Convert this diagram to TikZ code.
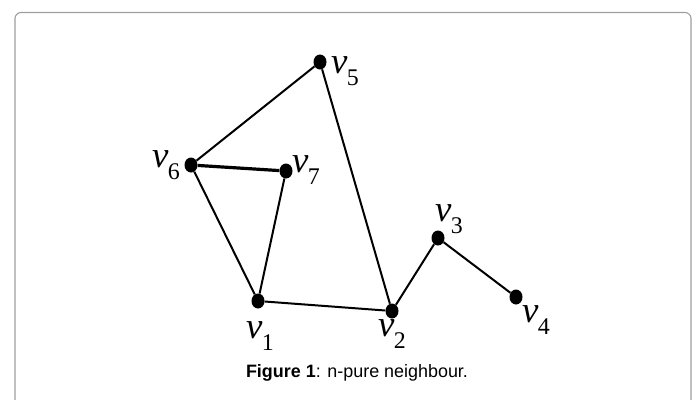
\documentclass[tikz,border=0pt]{standalone}
\usepackage{fontspec}
\setmainfont{Liberation Serif}
\newfontfamily\capfont{Liberation Sans}
\usetikzlibrary{shapes.geometric}
\newcommand{\vlab}[1]{{\fontsize{37}{37}\selectfont\itshape v}\kern-0.5bp\raisebox{-12.5bp}{\fontsize{24}{24}\selectfont #1}}
\tikzset{
  vertex/.style={ellipse,fill=black,draw=none,minimum width=13bp,minimum height=15bp,inner sep=0pt},
  vname/.style={anchor=base west,inner sep=0pt,outer sep=0pt},
  edge/.style={line width=2bp,black},
  frame/.style={draw=black!38,line width=1.1bp,rounded corners=6bp}
}
\begin{document}
\begin{tikzpicture}[x=1bp,y=-1bp]
\useasboundingbox (0,0) rectangle (697,399);
\draw[frame] (15,405) -- (15,12.5) -- (691,12.5) -- (691,405);
% vertices
\node[vertex] (v1) at (258,301) {};
\node[vertex] (v2) at (392,311) {};
\node[vertex] (v3) at (438,238) {};
\node[vertex] (v4) at (516,297) {};
\node[vertex] (v5) at (320,62) {};
\node[vertex] (v6) at (191,165) {};
\node[vertex] (v7) at (286,171) {};
% edges
\draw[edge] (v5) -- (v6);
\draw[edge] (v5) -- (v2);
\draw[edge,line width=3.2bp] (v6) -- (v7);
\draw[edge] (v6) -- (v1);
\draw[edge] (v7) -- (v1);
\draw[edge] (v1) -- (v2);
\draw[edge] (v2) -- (v3);
\draw[edge] (v3) -- (v4);
% labels
\node[vname] (l1) at (246,338) {\vlab{1}};
\node[vname] (l2) at (378,336) {\vlab{2}};
\node[vname] (l3) at (435,221) {\vlab{3}};
\node[vname] (l4) at (522,322) {\vlab{4}};
\node[vname] (l5) at (331,73) {\vlab{5}};
\node[vname] (l6) at (152,167) {\vlab{6}};
\node[vname] (l7) at (292,172) {\vlab{7}};
% caption
\node[anchor=base,inner sep=0pt] (cap) at (357,377) {\capfont\fontsize{18}{20}\selectfont\textbf{Figure 1}: n-pure neighbour.};
\end{tikzpicture}
\end{document}
